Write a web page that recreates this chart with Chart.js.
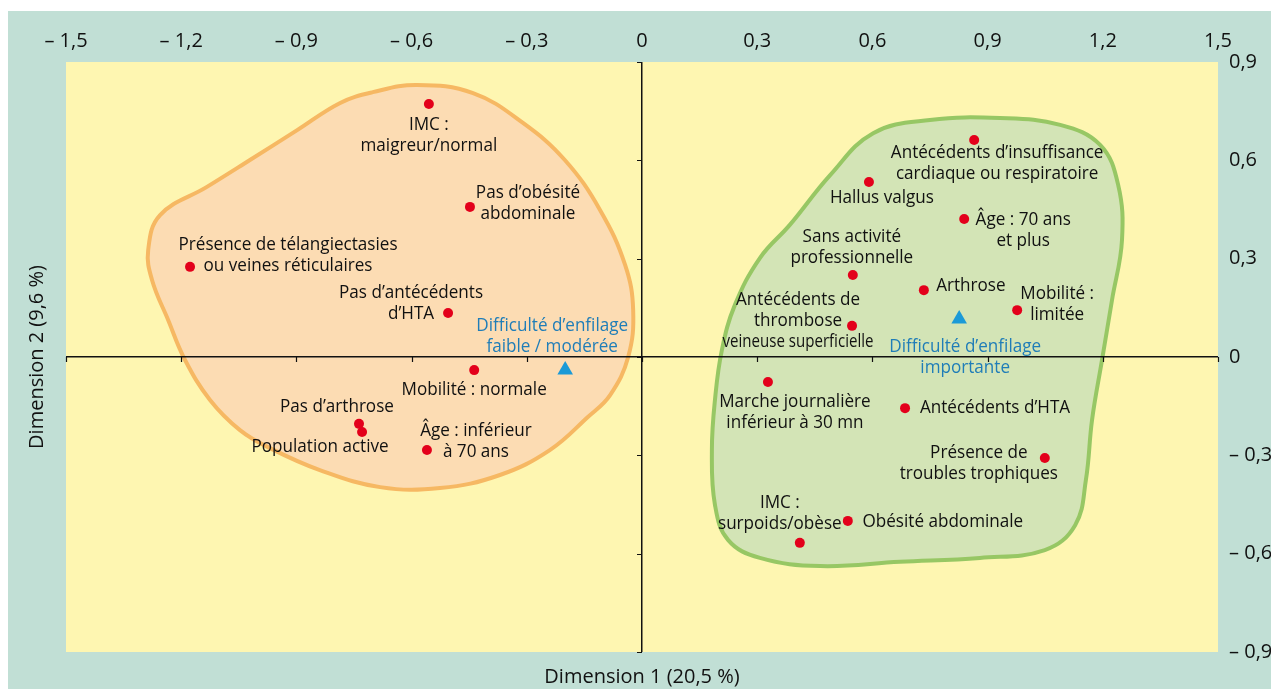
<!DOCTYPE html>
<html>
<head>
<meta charset="utf-8">
<script src="https://cdn.jsdelivr.net/npm/chart.js@4"></script>
<style>
  html, body { margin: 0; padding: 0; background: #fff; }
  canvas { display: block; }
</style>
</head>
<body>
<canvas id="acm" width="1271" height="689"></canvas>
<script>
// modalites (points rouges)
const modaliteX = [-0.555, -0.448, -1.177, -0.505, -0.437, -0.737, -0.729, -0.560,
  0.865, 0.591, 0.839, 0.549, 0.734, 0.977, 0.547, 0.328, 0.685, 1.049, 0.536, 0.411];
const modaliteY = [0.772, 0.458, 0.275, 0.134, -0.040, -0.204, -0.229, -0.284,
  0.662, 0.534, 0.421, 0.250, 0.204, 0.143, 0.095, -0.076, -0.156, -0.308, -0.500, -0.567];
const modaliteLabels = [
  'IMC :\nmaigreur/normal',
  'Pas d’obésité\nabdominale',
  'Présence de télangiectasies\nou veines réticulaires',
  'Pas d’antécédents\nd’HTA',
  'Mobilité : normale',
  'Pas d’arthrose',
  'Population active',
  'Âge : inférieur\nà 70 ans',
  'Antécédents d’insuffisance\ncardiaque ou respiratoire',
  'Hallus valgus',
  'Âge : 70 ans\net plus',
  'Sans activité\nprofessionnelle',
  'Arthrose',
  'Mobilité :\nlimitée',
  'Antécédents de\nthrombose\nveineuse superficielle',
  'Marche journalière\ninférieur à 30 mn',
  'Antécédents d’HTA',
  'Présence de\ntroubles trophiques',
  'Obésité abdominale',
  'IMC :\nsurpoids/obèse'
];

// variable a expliquer (triangles bleus)
const difficulteX = [-0.200, 0.826];
const difficulteY = [-0.040, 0.116];
const difficulteLabels = ['Difficulté d’enfilage\nfaible / modérée', 'Difficulté d’enfilage\nimportante'];

// contours des groupes
const groupeFaibleX = [-0.586, -0.440, -0.310, -0.201, -0.109, -0.044, -0.023, -0.036, -0.083, -0.141,
  -0.240, -0.370, -0.526, -0.682, -0.839, -0.969, -1.047, -1.125, -1.190, -1.234,
  -1.276, -1.286, -1.255, -1.133, -1.021, -0.898, -0.786, -0.701];
const groupeFaibleY = [0.830, 0.805, 0.714, 0.601, 0.448, 0.281, 0.143, 0.000, -0.116, -0.183,
  -0.284, -0.360, -0.400, -0.397, -0.345, -0.278, -0.223, -0.131, -0.009, 0.113,
  0.235, 0.326, 0.433, 0.519, 0.601, 0.692, 0.775, 0.808];
const groupeFortX = [0.750, 0.932, 1.089, 1.193, 1.240, 1.250, 1.224, 1.198, 1.172, 1.156,
  1.128, 1.049, 0.880, 0.672, 0.464, 0.307, 0.224, 0.190, 0.182, 0.190,
  0.208, 0.242, 0.307, 0.385, 0.490, 0.602];
const groupeFortY = [0.723, 0.729, 0.708, 0.647, 0.525, 0.357, 0.174, -0.009, -0.192, -0.375,
  -0.513, -0.589, -0.613, -0.625, -0.638, -0.613, -0.558, -0.451, -0.284, -0.131,
  0.021, 0.159, 0.302, 0.403, 0.555, 0.683];

const axeTicks = { x: [-1.5, 1.5, 0.3], y: [-0.9, 0.9, 0.3] };

// placement des etiquettes (px, centre de la 1re ligne), 3e valeur = largeur max eventuelle
const modaliteOffsets = [[0, 21], [58, -14], [98, -22], [-37, -20], [0, 19], [-22, -17], [-42, 15], [49, -19],
  [23, 13], [13, 16], [59, 1], [-1, -38], [47, -5], [40, -17], [-54, -26, 151], [27, 20], [90, -1], [-66, -5], [95, 1], [-20, -40]];
const difficulteOffsets = [[-13, -45], [6, 28]];

function pts(xs, ys) { return xs.map((x, i) => ({ x: x, y: ys[i] })); }
// ferme le contour : on repete le dernier point devant et les deux premiers a la fin
function closed(xs, ys) {
  const p = pts(xs, ys);
  return [p[p.length - 1]].concat(p, [p[0], p[1]]);
}
function contour(xs, ys, fillColor, lineColor) {
  const data = closed(xs, ys);
  const n = data.length;
  return {
    data: data,
    showLine: true,
    tension: 0.4,
    fill: 'shape',
    backgroundColor: fillColor,
    borderColor: lineColor,
    borderWidth: 4,
    pointRadius: 0,
    pointHoverRadius: 0,
    order: 10,
    segment: {
      borderColor: ctx => (ctx.p0DataIndex === 0 || ctx.p1DataIndex === n - 1) ? 'rgba(0,0,0,0)' : lineColor
    }
  };
}

function fmt(v) {
  const r = Math.round(v * 10) / 10;
  if (r === 0) return '0';
  return (r < 0 ? '– ' : '') + Math.abs(r).toFixed(1).replace('.', ',');
}

const FONT = '"Open Sans", sans-serif';
const SERRE = 0.9; // texte un peu condense

const fondPlugin = {
  id: 'fond',
  beforeDraw(chart) {
    const c = chart.ctx, a = chart.chartArea;
    c.save();
    c.fillStyle = '#ffffff';
    c.fillRect(0, 0, chart.width, chart.height);
    c.fillStyle = '#c1dfd5';
    c.fillRect(8, 11, chart.width - 8, chart.height - 11);
    c.fillStyle = '#fef6b1';
    c.fillRect(a.left, a.top, a.right - a.left, a.bottom - a.top);
    c.restore();
  }
};

function drawLabels(c, chart, dsIndex, labels, offsets, color) {
  const meta = chart.getDatasetMeta(dsIndex);
  c.fillStyle = color;
  meta.data.forEach((el, i) => {
    const lines = labels[i].split('\n');
    const off = offsets[i];
    lines.forEach((ln, k) => {
      let w = c.measureText(ln).width * SERRE;
      if (off[2] && w > off[2]) w = off[2];
      c.fillText(ln, el.x + off[0], el.y + off[1] + k * 21, w);
    });
  });
}

const texturePlugin = {
  id: 'textes',
  afterDraw(chart) {
    const c = chart.ctx, a = chart.chartArea;
    const xs = chart.scales.x, ys = chart.scales.y;
    const x0 = xs.getPixelForValue(0), y0 = ys.getPixelForValue(0);
    c.save();
    // petites graduations sur les axes du zero
    c.strokeStyle = '#111';
    c.lineWidth = 1.2;
    c.beginPath();
    xs.ticks.forEach(t => {
      const px = Math.round(xs.getPixelForValue(t.value)) + 0.5;
      c.moveTo(px, y0); c.lineTo(px, y0 + 5);
    });
    ys.ticks.forEach(t => {
      const py = Math.round(ys.getPixelForValue(t.value)) + 0.5;
      c.moveTo(x0, py); c.lineTo(x0 - 5, py);
    });
    c.stroke();

    c.font = '19px ' + FONT;
    c.textAlign = 'center';
    c.textBaseline = 'middle';
    drawLabels(c, chart, 0, modaliteLabels, modaliteOffsets, '#111');
    drawLabels(c, chart, 1, difficulteLabels, difficulteOffsets, '#1f7db8');

    // titres des axes
    c.fillStyle = '#111';
    c.font = '20px ' + FONT;
    c.fillText('Dimension 1 (20,5 %)', (a.left + a.right) / 2, 677);
    c.translate(37, (a.top + a.bottom) / 2);
    c.rotate(-Math.PI / 2);
    c.fillText('Dimension 2 (9,6 %)', 0, 0);
    c.restore();
  }
};

new Chart(document.getElementById('acm'), {
  type: 'scatter',
  data: {
    datasets: [
      {
        data: pts(modaliteX, modaliteY),
        pointRadius: 5,
        pointHoverRadius: 5,
        backgroundColor: '#e3001b',
        borderWidth: 0,
        order: 1
      },
      {
        data: pts(difficulteX, difficulteY),
        pointStyle: 'triangle',
        pointRadius: 9,
        pointHoverRadius: 9,
        backgroundColor: '#1b9ad7',
        borderWidth: 0,
        order: 0
      },
      contour(groupeFaibleX, groupeFaibleY, '#fcdcb3', '#f6b863'),
      contour(groupeFortX, groupeFortY, '#d3e4b6', '#97c764')
    ]
  },
  options: {
    responsive: false,
    animation: false,
    events: [],
    layout: { padding: { left: 66, top: 11, right: 0, bottom: 37 } },
    plugins: { legend: { display: false }, tooltip: { enabled: false } },
    scales: {
      x: {
        type: 'linear',
        position: 'top',
        min: axeTicks.x[0],
        max: axeTicks.x[1],
        afterFit: s => { s.height = 51; },
        border: { display: false },
        grid: {
          z: 1,
          drawTicks: false,
          lineWidth: 1.5,
          color: ctx => (ctx.tick && Math.abs(ctx.tick.value) < 1e-9) ? '#111' : 'rgba(0,0,0,0)'
        },
        ticks: {
          stepSize: axeTicks.x[2],
          padding: 9,
          color: '#111',
          font: { family: FONT, size: 20 },
          callback: v => fmt(v)
        }
      },
      y: {
        type: 'linear',
        position: 'right',
        min: axeTicks.y[0],
        max: axeTicks.y[1],
        afterFit: s => { s.width = 53; },
        border: { display: false },
        grid: {
          z: 1,
          drawTicks: false,
          lineWidth: 1.5,
          color: ctx => (ctx.tick && Math.abs(ctx.tick.value) < 1e-9) ? '#111' : 'rgba(0,0,0,0)'
        },
        ticks: {
          stepSize: axeTicks.y[2],
          padding: 11,
          color: '#111',
          font: { family: FONT, size: 20 },
          callback: v => fmt(v)
        }
      }
    }
  },
  plugins: [fondPlugin, texturePlugin]
});
</script>
</body>
</html>
